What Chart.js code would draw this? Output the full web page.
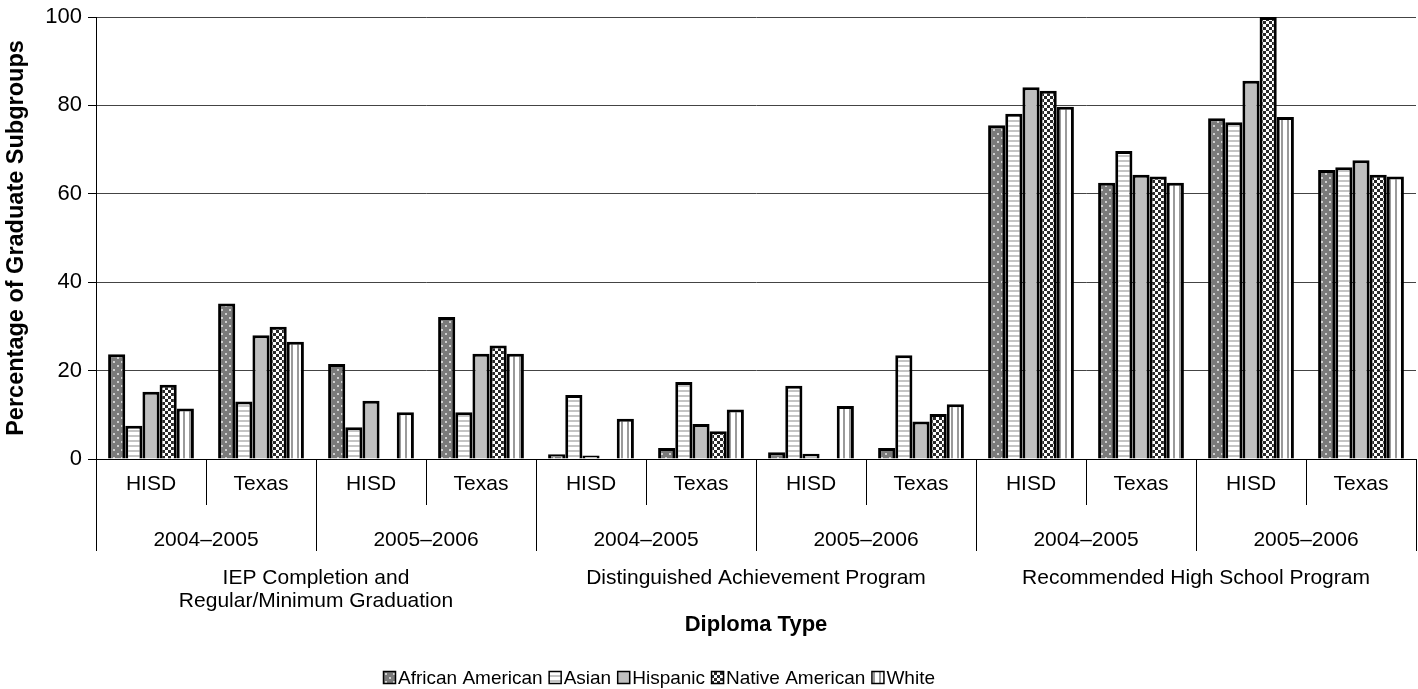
<!DOCTYPE html>
<html>
<head>
<meta charset="utf-8">
<script src="https://cdn.jsdelivr.net/npm/chart.js@4.4.1/dist/chart.umd.min.js"></script>
<style>
  html, body { margin: 0; padding: 0; background: #ffffff; }
  #wrap { width: 1418px; height: 689px; position: relative; }
</style>
</head>
<body>
<div id="wrap"><canvas id="chart" width="1418" height="689"></canvas></div>
<script>
// Category levels of the x axis
const sites = ['HISD', 'Texas', 'HISD', 'Texas', 'HISD', 'Texas', 'HISD', 'Texas', 'HISD', 'Texas', 'HISD', 'Texas'];
const years = ['2004\u20132005', '2005\u20132006', '2004\u20132005', '2005\u20132006', '2004\u20132005', '2005\u20132006'];
const diplomaTypes = [
  ['IEP Completion and', 'Regular/Minimum Graduation'],
  ['Distinguished Achievement Program'],
  ['Recommended High School Program']
];
const yTicks = [0, 20, 40, 60, 80, 100];

// Percentage of graduates in each subgroup (null = no bar)
const africanAmerican = [23.7, 35.2, 21.5, 32.1, 1.1, 2.5, 1.5, 2.5, 75.5, 62.5, 77.1, 65.4];
const asian           = [7.5, 13.0, 7.2, 10.6, 14.5, 17.4, 16.6, 23.5, 78.1, 69.7, 76.2, 66.0];
const hispanic        = [15.2, 28.0, 13.2, 23.8, 0.8, 7.9, 1.2, 8.5, 84.1, 64.3, 85.6, 67.6];
const nativeAmerican  = [16.8, 29.9, null, 25.7, null, 6.3, null, 10.2, 83.3, 63.9, 100, 64.3];
const white           = [11.4, 26.5, 10.6, 23.8, 9.1, 11.2, 12.0, 12.4, 79.7, 62.5, 77.4, 63.9];

const seriesNames = ['African American', 'Asian', 'Hispanic', 'Native American', 'White'];

const FONT = '"Liberation Sans", Arial, sans-serif';

// Fill patterns for the bars
function makePattern(w, h, paint) {
  const c = document.createElement('canvas');
  c.width = w; c.height = h;
  const g = c.getContext('2d');
  paint(g, w, h);
  return document.getElementById('chart').getContext('2d').createPattern(c, 'repeat');
}
const dotted = makePattern(8, 8, (g) => {
  g.fillStyle = '#7a7a7a'; g.fillRect(0, 0, 8, 8);
  g.fillStyle = '#d0d0d0';
  g.fillRect(1, 1, 2, 2); g.fillRect(5, 5, 2, 2);
});
const hStripes = makePattern(4, 5, (g) => {
  g.fillStyle = '#ffffff'; g.fillRect(0, 0, 4, 5);
  g.fillStyle = '#c4c4c4'; g.fillRect(0, 0, 4, 2);
});
const solidGray = '#bfbfbf';
const checker = makePattern(6, 6, (g) => {
  g.fillStyle = '#ffffff'; g.fillRect(0, 0, 6, 6);
  g.fillStyle = '#2a2a2a';
  g.fillRect(0, 0, 3, 3); g.fillRect(3, 3, 3, 3);
});
const vStripes = makePattern(6, 4, (g) => {
  g.fillStyle = '#ffffff'; g.fillRect(0, 0, 6, 4);
  g.fillStyle = '#9a9a9a'; g.fillRect(3, 0, 2, 4);
});
const fills = [dotted, hStripes, solidGray, checker, vStripes];
const values = [africanAmerican, asian, hispanic, nativeAmerican, white];

const datasets = seriesNames.map((name, i) => ({
  label: name,
  data: values[i],
  backgroundColor: fills[i],
  borderColor: '#000000',
  borderWidth: 3,
  categoryPercentage: 0.78,
  barPercentage: 1.0
}));

// Draws the grouped category levels, axis title and legend below the plot
const hierarchyPlugin = {
  id: 'hierarchy',
  afterDraw(chart) {
    const ctx = chart.ctx;
    const x = chart.scales.x;
    const area = chart.chartArea;
    const n = sites.length;
    const step = (area.right - area.left) / n;
    const base = area.bottom;
    ctx.save();
    ctx.strokeStyle = '#000000';
    ctx.lineWidth = 1;
    for (let i = 0; i <= n; i++) {
      const px = Math.round(area.left + i * step) + 0.5;
      const len = (i % 2 === 0) ? 92 : 46;
      ctx.beginPath();
      ctx.moveTo(px, base);
      ctx.lineTo(px, base + len);
      ctx.stroke();
    }
    ctx.fillStyle = '#000000';
    ctx.textAlign = 'center';
    ctx.textBaseline = 'middle';
    ctx.font = '21px ' + FONT;
    years.forEach((y, j) => {
      const cx = (x.getPixelForValue(2 * j) + x.getPixelForValue(2 * j + 1)) / 2;
      ctx.fillText(y, cx, base + 81);
    });
    diplomaTypes.forEach((lines, k) => {
      const cx = (x.getPixelForValue(4 * k + 1) + x.getPixelForValue(4 * k + 2)) / 2;
      lines.forEach((t, m) => ctx.fillText(t, cx, base + 119 + m * 23));
    });
    ctx.font = 'bold 22px ' + FONT;
    ctx.fillText('Diploma Type', (area.left + area.right) / 2, base + 166);

    // Legend
    ctx.font = '19px ' + FONT;
    ctx.textAlign = 'left';
    let lx = 383;
    const ly = 678;
    seriesNames.forEach((name, i) => {
      ctx.fillStyle = fills[i];
      ctx.fillRect(lx, ly - 7, 13, 13);
      ctx.strokeStyle = '#000000';
      ctx.lineWidth = 1.5;
      ctx.strokeRect(lx + 0.5, ly - 6.5, 12, 12);
      ctx.fillStyle = '#000000';
      ctx.fillText(name, lx + 15, ly + 1);
      lx += 15 + ctx.measureText(name).width + 6;
    });
    ctx.restore();
  }
};

new Chart(document.getElementById('chart'), {
  type: 'bar',
  data: { labels: sites, datasets },
  options: {
    responsive: false,
    animation: false,
    layout: { padding: { top: 17, right: 2, left: 0, bottom: 0 } },
    plugins: {
      legend: { display: false },
      tooltip: { enabled: false }
    },
    scales: {
      x: {
        ticks: { color: '#000000', font: { size: 21, family: FONT }, padding: 13, maxRotation: 0, autoSkip: false },
        grid: { display: false, drawTicks: false },
        border: { display: true, color: '#000000', width: 1 },
        afterFit(scale) { scale.height = 230; }
      },
      y: {
        min: 0, max: 100,
        afterBuildTicks(scale) { scale.ticks = yTicks.map(v => ({ value: v })); },
        ticks: { color: '#000000', font: { size: 22, family: FONT, lineHeight: 1 }, padding: 6 },
        grid: { color: '#444444', lineWidth: 1, tickLength: 8, tickColor: '#000000' },
        border: { display: true, color: '#000000', width: 1 },
        title: { display: true, text: 'Percentage of Graduate Subgroups', color: '#000000', font: { size: 23.5, weight: 'bold', family: FONT }, padding: { top: 2, bottom: 2 } },
        afterFit(scale) { scale.width = 96; scale.paddingTop = 0; scale.paddingBottom = 0; }
      }
    }
  },
  plugins: [hierarchyPlugin]
});
</script>
</body>
</html>
